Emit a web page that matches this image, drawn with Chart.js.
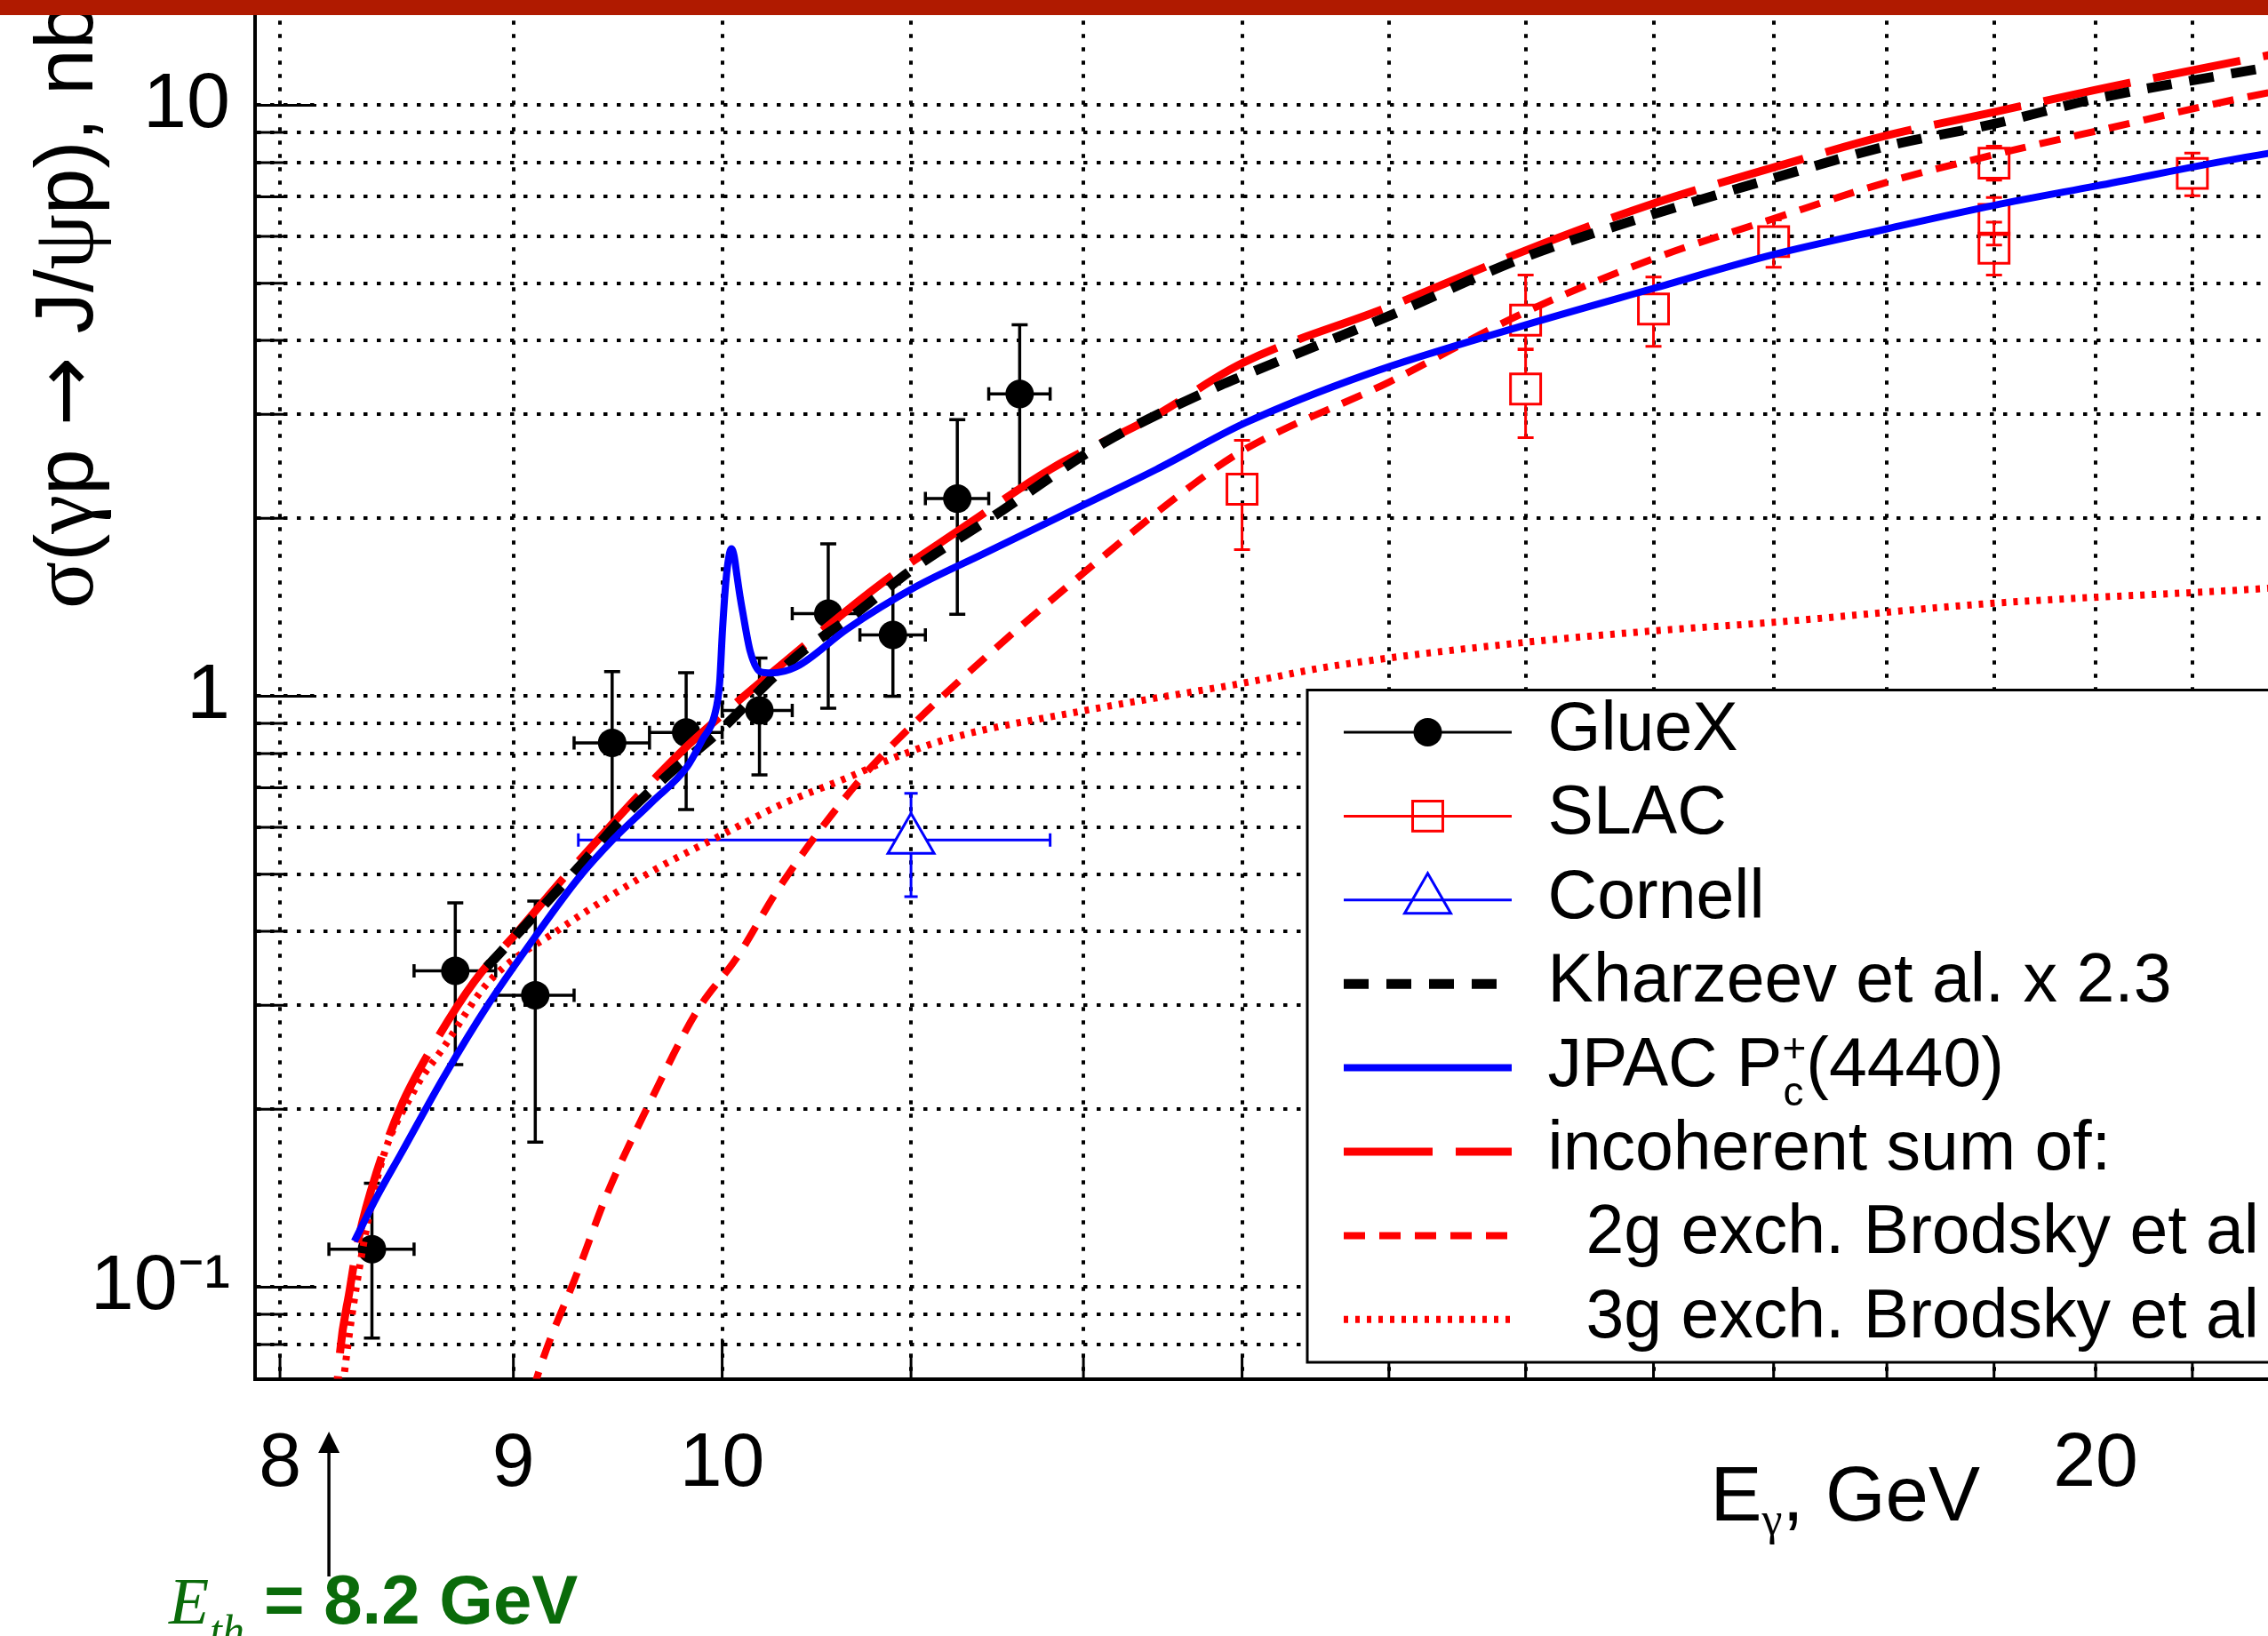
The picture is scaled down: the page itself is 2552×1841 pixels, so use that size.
<!DOCTYPE html>
<html>
<head>
<meta charset="utf-8">
<title>J/psi photoproduction near threshold</title>
<script src="https://cdn.jsdelivr.net/npm/chart.js@4.4.1/dist/chart.umd.min.js"></script>
<style>
  html, body { margin: 0; padding: 0; background: #fff; overflow: hidden; }
  #page { position: relative; width: 2552px; height: 1841px; overflow: hidden; background: #fff; }
  #chartgraph { position: absolute; left: 0; top: -200px; }
  #banner { position: absolute; left: 0; top: 0; width: 2552px; height: 17px; background: #b01a00; }
</style>
</head>
<body>
<div id="page">
  <canvas id="chartgraph"></canvas>
  <div id="banner"></div>
</div>
<script>
// GlueX points: E in GeV (bin edges for x errors), sigma in nb
var glueE     = [8.38, 8.74, 9.10, 9.46, 9.82, 10.19, 10.55, 10.90, 11.26, 11.62];
var glueElo   = [8.20, 8.56, 8.92, 9.28, 9.64, 10.00, 10.36, 10.72, 11.08, 11.44];
var glueEhi   = [8.56, 8.92, 9.28, 9.64, 10.00, 10.36, 10.72, 11.08, 11.44, 11.80];
var glueSig   = [0.116, 0.343, 0.312, 0.834, 0.868, 0.946, 1.380, 1.270, 2.160, 3.247];
var glueSigLo = [0.082, 0.238, 0.176, 0.575, 0.643, 0.736, 0.954, 1.000, 1.376, 2.241];
var glueSigHi = [0.150, 0.447, 0.450, 1.101, 1.096, 1.160, 1.811, 1.550, 2.939, 4.252];

// SLAC points
var slacE     = [13, 15, 15, 16, 17, 19, 19, 19, 21];
var slacSig   = [2.24, 4.33, 3.31, 4.52, 5.88, 7.98, 6.41, 5.73, 7.67];
var slacSigLo = [1.77, 3.87, 2.74, 3.91, 5.32, 7.47, 5.80, 5.16, 7.03];
var slacSigHi = [2.71, 5.16, 3.86, 5.12, 6.40, 8.53, 6.98, 6.34, 8.30];

// Cornell point
var cornE = [11.0], cornElo = [9.30], cornEhi = [11.80];
var cornSig = [0.571], cornSigLo = [0.458], cornSigHi = [0.685];

// model curves
var kharE   = [8.88, 9.09, 9.30, 9.51, 9.73, 9.99, 10.26, 10.42, 10.67, 11.02, 11.47, 12.12, 12.86, 13.0, 14, 15, 16, 17, 18, 19, 20, 21.82, 22.5];
var kharSig = [0.348, 0.423, 0.513, 0.622, 0.736, 0.875, 1.075, 1.195, 1.360, 1.650, 2.018, 2.680, 3.36, 3.48, 4.40, 5.54, 6.54, 7.53, 8.53, 9.30, 10.26, 11.60, 12.10];

var jpacE   = [8.306, 8.40, 8.503, 8.69, 8.889, 9.106, 9.299, 9.464, 9.652, 9.825, 9.901, 9.962, 9.987, 10.002, 10.02, 10.035, 10.047, 10.06, 10.075, 10.09, 10.104, 10.143, 10.195, 10.25, 10.38, 10.65, 11.02, 11.41, 12.01, 12.45, 13.02, 13.86, 15, 16, 17, 18, 19, 20, 21.82, 22.5];
var jpacSig = [0.1196, 0.142, 0.168, 0.227, 0.302, 0.395, 0.4915, 0.572, 0.662, 0.76, 0.845, 0.93, 1.05, 1.30, 1.58, 1.73, 1.776, 1.73, 1.60, 1.48, 1.39, 1.19, 1.10, 1.095, 1.121, 1.299, 1.528, 1.742, 2.113, 2.42, 2.90, 3.516, 4.25, 4.90, 5.59, 6.18, 6.77, 7.30, 8.29, 8.55];

var incE   = [8.22, 8.237, 8.288, 8.326, 8.401, 8.503, 8.629, 8.824, 9.026, 9.229, 9.438, 9.581, 9.798, 10.0, 10.328, 10.837, 11.29, 11.808, 12.431, 13.0, 14, 15, 16, 17, 18, 19, 20, 21.82, 22.5];
var incSig = [0.05, 0.070, 0.0998, 0.122, 0.157, 0.202, 0.251, 0.329, 0.402, 0.4915, 0.596, 0.676, 0.807, 0.93, 1.148, 1.552, 1.927, 2.428, 2.971, 3.66, 4.56, 5.68, 6.82, 7.85, 8.89, 9.74, 10.62, 12.15, 12.70];

var g2E   = [9.05, 9.106, 9.299, 9.438, 9.652, 9.871, 10.08, 10.29, 10.71, 11.0, 11.41, 12.01, 12.65, 13.0, 14, 15, 16, 17, 18, 19, 20, 21.82, 22.5];
var g2Sig = [0.058, 0.070, 0.1067, 0.1444, 0.2089, 0.2922, 0.3635, 0.4733, 0.716, 0.889, 1.156, 1.625, 2.248, 2.60, 3.40, 4.47, 5.50, 6.43, 7.41, 8.25, 9.04, 10.50, 10.90];

var g3E   = [8.23, 8.30, 8.41, 8.56, 8.69, 8.89, 9.21, 9.66, 10.0, 10.29, 10.65, 10.93, 11.22, 12.01, 13.02, 13.61, 15, 16, 17, 19, 21.82, 22.5];
var g3Sig = [0.055, 0.092, 0.157, 0.215, 0.255, 0.329, 0.403, 0.5075, 0.583, 0.653, 0.7275, 0.792, 0.849, 0.946, 1.054, 1.125, 1.234, 1.29, 1.334, 1.437, 1.523, 1.55];

// axes
var xTickVals  = [8, 9, 10, 11, 12, 13, 14, 15, 16, 17, 18, 19, 20, 21, 22, 23, 24];
var xLabelVals = [8, 9, 10, 20];
var yTickVals  = [0.08, 0.09, 0.1, 0.2, 0.3, 0.4, 0.5, 0.6, 0.7, 0.8, 0.9, 1, 2, 3, 4, 5, 6, 7, 8, 9, 10, 20];
var yLabelVals = [0.1, 1, 10];
var yLabelText = ['10\u207B\u00B9', '1', '10'];
var E_TH = 8.2;

var OFFY = 200;
var SANS = '"Liberation Sans", Arial, Helvetica, sans-serif';
var SERIF = '"Liberation Serif", "Times New Roman", serif';

var canv = document.getElementById('chartgraph');
canv.width = 2900;
canv.height = 2100;
canv.style.width = '2900px';
canv.style.height = '2100px';
var ctx = canv.getContext('2d');

function pts(xs, ys) {
  return xs.map(function (x, i) { return {x: x, y: ys[i]}; });
}

Chart.defaults.font.family = SANS;
Chart.defaults.color = '#000';

// ROOT style ticks drawn inside the frame
var insideTicks = {
  id: 'insideTicks',
  beforeDatasetsDraw: function (chart) {
    var c = chart.ctx, a = chart.chartArea, x = chart.scales.x, y = chart.scales.y;
    c.save();
    c.strokeStyle = '#000';
    c.lineWidth = 3;
    c.beginPath();
    xTickVals.forEach(function (v) {
      var px = x.getPixelForValue(v);
      var len = (v === 10 || v === 20) ? 45 : 25;
      c.moveTo(px, a.bottom); c.lineTo(px, a.bottom - len);
    });
    yTickVals.forEach(function (v) {
      var py = y.getPixelForValue(v);
      var lg = Math.log10(v);
      var len = Math.abs(lg - Math.round(lg)) < 1e-6 ? 69 : 32;
      c.moveTo(a.left, py); c.lineTo(a.left + len, py);
    });
    c.stroke();
    c.restore();
  }
};

function errBars(c, sx, sy, xs, ys, o) {
  c.save();
  c.strokeStyle = o.color;
  c.lineWidth = o.width;
  c.beginPath();
  for (var i = 0; i < xs.length; i++) {
    var px = sx.getPixelForValue(xs[i]), py = sy.getPixelForValue(ys[i]);
    if (o.ylo) {
      var pt = sy.getPixelForValue(o.yhi[i]), pb = sy.getPixelForValue(o.ylo[i]);
      if (pt < py - o.gapU) { c.moveTo(px, py - o.gapU); c.lineTo(px, pt); }
      if (pb > py + o.gapD) { c.moveTo(px, py + o.gapD); c.lineTo(px, pb); }
      c.moveTo(px - o.capY / 2, pt); c.lineTo(px + o.capY / 2, pt);
      c.moveTo(px - o.capY / 2, pb); c.lineTo(px + o.capY / 2, pb);
    }
    if (o.xlo) {
      var pl = sx.getPixelForValue(o.xlo[i]), pr = sx.getPixelForValue(o.xhi[i]);
      if (pl < px - o.gapS) { c.moveTo(px - o.gapS, py); c.lineTo(pl, py); }
      if (pr > px + o.gapS) { c.moveTo(px + o.gapS, py); c.lineTo(pr, py); }
      c.moveTo(pl, py - o.capX / 2); c.lineTo(pl, py + o.capX / 2);
      c.moveTo(pr, py - o.capX / 2); c.lineTo(pr, py + o.capX / 2);
    }
  }
  c.stroke();
  c.restore();
}

var errorBars = {
  id: 'errorBars',
  beforeDatasetsDraw: function (chart) {
    var c = chart.ctx, sx = chart.scales.x, sy = chart.scales.y;
    c.save();
    var a = chart.chartArea;
    c.beginPath(); c.rect(a.left, a.top, a.right - a.left, a.bottom - a.top); c.clip();
    errBars(c, sx, sy, glueE, glueSig, {xlo: glueElo, xhi: glueEhi, ylo: glueSigLo, yhi: glueSigHi,
      color: '#000', width: 3.5, capX: 15, capY: 18, gapU: 0, gapD: 0, gapS: 0});
    errBars(c, sx, sy, slacE, slacSig, {ylo: slacSigLo, yhi: slacSigHi,
      color: '#ff0000', width: 3, capY: 18, gapU: 17, gapD: 17});
    errBars(c, sx, sy, cornE, cornSig, {xlo: cornElo, xhi: cornEhi, ylo: cornSigLo, yhi: cornSigHi,
      color: '#0000ff', width: 3, capX: 15, capY: 15, gapU: 30, gapD: 15, gapS: 17});
    c.restore();
  }
};

function drawRuns(c, runs, x, y) {
  runs.forEach(function (r) {
    c.font = r.font;
    c.fillText(r.t, x, y + (r.dy || 0));
    x += c.measureText(r.t).width + (r.dx || 0);
  });
  return x;
}

function runsWidth(c, runs) {
  var w = 0;
  runs.forEach(function (r) { c.font = r.font; w += c.measureText(r.t).width + (r.dx || 0); });
  return w;
}

function legendSample(c, ds, x0, x1, y) {
  var isPts = ds.showLine === false;
  c.save();
  c.lineWidth = isPts ? 3 : ds.borderWidth;
  c.strokeStyle = isPts ? ds.pointBorderColor : ds.borderColor;
  c.setLineDash(isPts ? [] : (ds.borderDash || []));
  c.beginPath(); c.moveTo(x0, y); c.lineTo(x1, y); c.stroke();
  if (isPts) {
    c.setLineDash([]);
    c.fillStyle = ds.pointBackgroundColor;
    c.strokeStyle = ds.pointBorderColor;
    c.lineWidth = ds.pointBorderWidth;
    Chart.helpers.drawPoint(c, {pointStyle: ds.pointStyle, radius: ds.pointRadius, rotation: 0,
      borderWidth: ds.pointBorderWidth}, (x0 + x1) / 2, y);
  }
  c.restore();
}

// legend, axis titles and the threshold arrow
var decorations = {
  id: 'decorations',
  afterDraw: function (chart) {
    var c = chart.ctx;
    c.save();

    // legend box
    var L = 1471, T = 776.5 + OFFY, B = 1533 + OFFY, R = 2890;
    c.fillStyle = '#fff';
    c.fillRect(L, T, R - L, B - T);
    c.strokeStyle = '#000';
    c.lineWidth = 3;
    c.strokeRect(L, T, R - L, B - T);
    chart.data.datasets.forEach(function (ds, i) {
      var yc = 824 + OFFY + i * 94.4;
      legendSample(c, ds, 1512, 1701, yc);
      c.fillStyle = '#000';
      c.textBaseline = 'alphabetic';
      c.textAlign = 'left';
      var base = yc + 20;
      if (ds.label.indexOf('JPAC') === 0) {
        var x = drawRuns(c, [{t: 'JPAC P', font: '77px ' + SANS}], 1741.6, base);
        c.font = '46px ' + SANS;
        c.fillText('+', x, base - 27);
        c.fillText('c', x + 1, base + 22);
        x += Math.max(c.measureText('+').width, c.measureText('c').width);
        drawRuns(c, [{t: '(4440)', font: '77px ' + SANS}], x, base);
      } else {
        c.font = '77px ' + SANS;
        c.fillText(ds.label, 1741.6, base);
      }
    });

    // y title, reading upwards
    c.fillStyle = '#000';
    c.save();
    c.translate(104, 685 + OFFY);
    c.rotate(-Math.PI / 2);
    drawRuns(c, [
      {t: '\u03C3', font: '99px ' + SERIF},
      {t: '(', font: '93px ' + SANS},
      {t: '\u03B3', font: '99px ' + SERIF},
      {t: 'p ', font: '93px ' + SANS},
      {t: '\u2192', font: '93px "DejaVu Sans", sans-serif'},
      {t: ' J/', font: '93px ' + SANS},
      {t: '\u03C8', font: '99px ' + SERIF},
      {t: 'p), nb', font: '93px ' + SANS}
    ], 0, 0);
    c.restore();

    // x title
    var xt = [
      {t: 'E', font: '87px ' + SANS},
      {t: '\u03B3', font: '52px ' + SERIF, dy: 16},
      {t: ', GeV', font: '87px ' + SANS}
    ];
    drawRuns(c, xt, 2228 - runsWidth(c, xt), 1711 + OFFY);

    // threshold marker
    var g = '#0a6b0a';
    var ax = chart.scales.x.getPixelForValue(E_TH);
    c.strokeStyle = '#000';
    c.fillStyle = '#000';
    c.lineWidth = 3.5;
    c.beginPath();
    c.moveTo(ax, 1774 + OFFY); c.lineTo(ax, 1630 + OFFY);
    c.stroke();
    c.beginPath();
    c.moveTo(ax, 1611 + OFFY); c.lineTo(ax - 12, 1635 + OFFY); c.lineTo(ax + 12, 1635 + OFFY);
    c.closePath(); c.fill();

    c.fillStyle = g;
    c.font = 'italic 74px ' + SERIF;
    c.fillText('E', 190, 1826.7 + OFFY);
    c.font = 'italic 50px ' + SERIF;
    c.fillText('th', 236, 1852 + OFFY);
    c.font = 'bold 78px ' + SANS;
    c.fillText('= ' + E_TH.toFixed(1) + ' GeV', 297, 1826.7 + OFFY);

    c.restore();
  }
};

var chart = new Chart(ctx, {
  type: 'scatter',
  data: {
    datasets: [{
      label: 'GlueX',
      data: pts(glueE, glueSig),
      showLine: false,
      pointStyle: 'circle',
      pointRadius: 16,
      pointBackgroundColor: '#000',
      pointBorderColor: '#000',
      pointBorderWidth: 0,
      order: 8
    }, {
      label: 'SLAC',
      data: pts(slacE, slacSig),
      showLine: false,
      pointStyle: 'rect',
      pointRadius: 24,
      pointBackgroundColor: 'rgba(0,0,0,0)',
      pointBorderColor: '#ff0000',
      pointBorderWidth: 3,
      order: 7
    }, {
      label: 'Cornell',
      data: pts(cornE, cornSig),
      showLine: false,
      pointStyle: 'triangle',
      pointRadius: 30,
      pointBackgroundColor: 'rgba(0,0,0,0)',
      pointBorderColor: '#0000ff',
      pointBorderWidth: 3,
      order: 6
    }, {
      label: 'Kharzeev et al. x 2.3',
      data: pts(kharE, kharSig),
      showLine: true,
      borderColor: '#000',
      borderWidth: 11,
      borderDash: [28, 20],
      pointRadius: 0,
      cubicInterpolationMode: 'monotone',
      clip: 0,
      order: 2
    }, {
      label: 'JPAC Pc+(4440)',
      data: pts(jpacE, jpacSig),
      showLine: true,
      borderColor: '#0000ff',
      borderWidth: 8,
      pointRadius: 0,
      cubicInterpolationMode: 'monotone',
      clip: 0,
      order: 1
    }, {
      label: 'incoherent sum of:',
      data: pts(incE, incSig),
      showLine: true,
      borderColor: '#ff0000',
      borderWidth: 9,
      borderDash: [100, 26],
      pointRadius: 0,
      cubicInterpolationMode: 'monotone',
      clip: 0,
      order: 3
    }, {
      label: '  2g exch. Brodsky et al',
      data: pts(g2E, g2Sig),
      showLine: true,
      borderColor: '#ff0000',
      borderWidth: 8,
      borderDash: [24, 16],
      pointRadius: 0,
      cubicInterpolationMode: 'monotone',
      clip: 0,
      order: 4
    }, {
      label: '  3g exch. Brodsky et al',
      data: pts(g3E, g3Sig),
      showLine: true,
      borderColor: '#ff0000',
      borderWidth: 8,
      borderDash: [5, 8],
      pointRadius: 0,
      cubicInterpolationMode: 'monotone',
      clip: 0,
      order: 5
    }]
  },
  options: {
    responsive: false,
    animation: false,
    devicePixelRatio: 1,
    events: [],
    layout: {padding: {left: 0, right: 135.4, top: 118.3, bottom: 148.5}},
    plugins: {legend: {display: false}, tooltip: {enabled: false}},
    scales: {
      x: {
        type: 'logarithmic',
        position: 'bottom',
        min: 7.9,
        max: 24,
        afterBuildTicks: function (s) { s.ticks = xTickVals.map(function (v) { return {value: v}; }); },
        afterFit: function (s) { s.height = 200; },
        ticks: {
          autoSkip: false,
          maxRotation: 0,
          padding: 45,
          color: '#000',
          font: {size: 86, family: SANS},
          callback: function (v) { return xLabelVals.indexOf(v) >= 0 ? String(v) : ''; }
        },
        grid: {color: '#000', lineWidth: 4, drawTicks: false},
        border: {display: true, color: '#000', width: 4, dash: [4.5, 10.5]}
      },
      y: {
        type: 'logarithmic',
        position: 'left',
        min: 0.07,
        max: 20,
        afterBuildTicks: function (s) { s.ticks = yTickVals.map(function (v) { return {value: v}; }); },
        afterFit: function (s) { s.width = 287; },
        ticks: {
          autoSkip: false,
          padding: 28,
          color: '#000',
          font: {size: 88, family: SANS},
          callback: function (v) {
            for (var i = 0; i < yLabelVals.length; i++) {
              if (Math.abs(v - yLabelVals[i]) < 1e-9) return yLabelText[i];
            }
            return '';
          }
        },
        grid: {color: '#000', lineWidth: 4, drawTicks: false},
        border: {display: true, color: '#000', width: 4, dash: [4.5, 10.5]}
      }
    }
  },
  plugins: [insideTicks, errorBars, decorations]
});
</script>
</body>
</html>
